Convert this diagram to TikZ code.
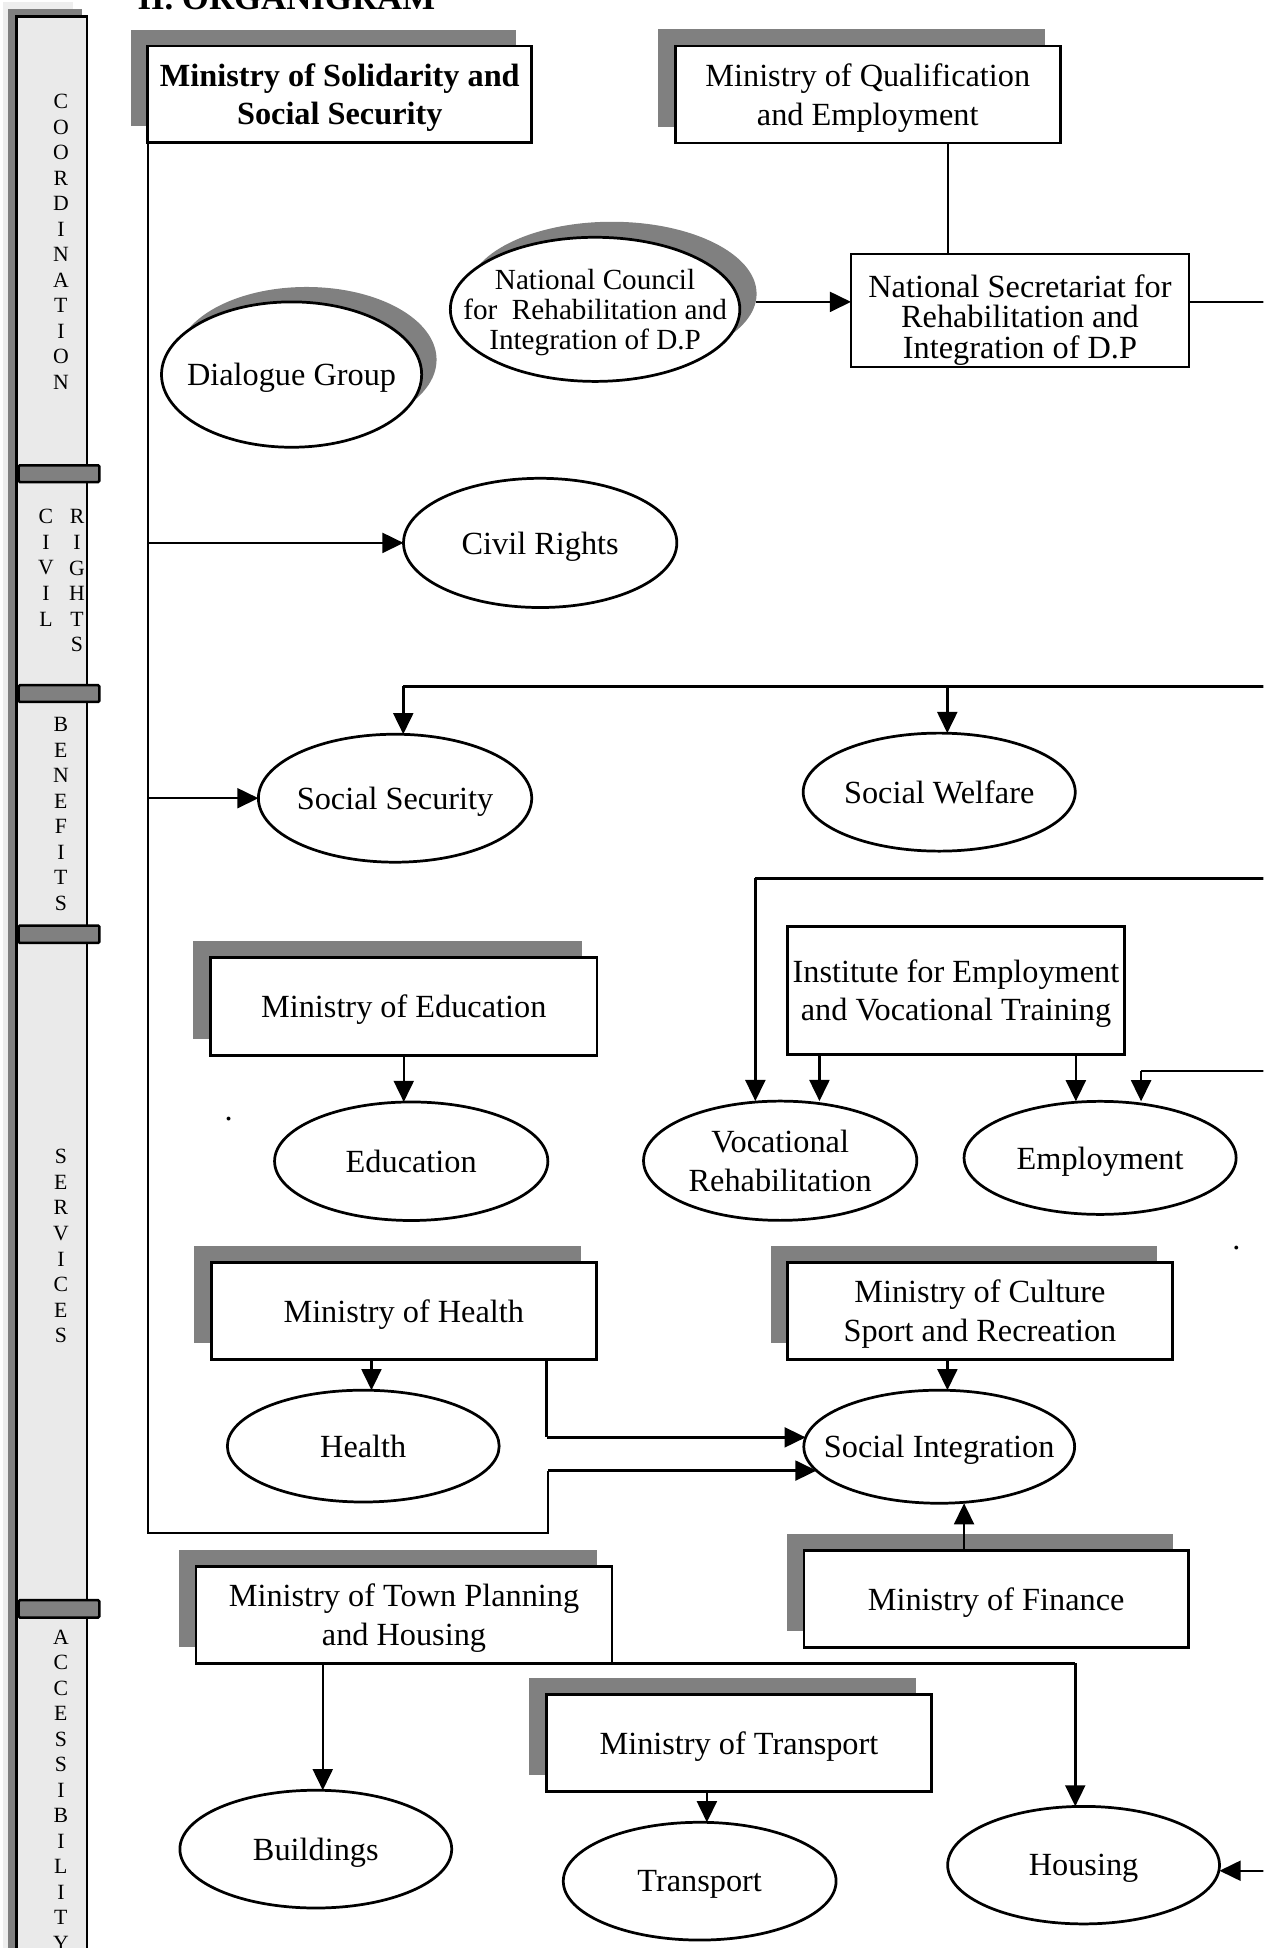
\documentclass[tikz,border=0pt]{standalone}
\usepackage{fontspec}
\setmainfont{Liberation Serif}
\usetikzlibrary{arrows.meta,shapes.geometric,shadows}

\definecolor{shadegray}{HTML}{808080}
\definecolor{panelfill}{HTML}{EAEAEA}
\definecolor{panelback}{HTML}{EEEEEE}

\tikzset{
  body/.style={font=\fontsize{26}{31}\selectfont},
  orgbox/.style={draw, line width=2.2pt, fill=white, rectangle, inner sep=0pt,
    outer sep=0pt, align=center, text depth=0pt, body},
  boxshadow/.style={drop shadow={shadow xshift=-13pt, shadow yshift=13pt,
    shadow scale=1.005, fill=shadegray, opacity=1}},
  oval/.style={draw, line width=2.2pt, fill=white, ellipse, inner sep=0pt, outer sep=0pt},
  ovalshadow/.style={drop shadow={shadow xshift=12pt, shadow yshift=12pt,
    fill=shadegray, opacity=1}},
  ovaltext/.style={body, align=center, inner sep=0pt, text depth=0pt},
  link/.style={line width=2pt},
  arr/.style={link, -{Triangle[length=17pt,width=16pt]}},
  letter/.style={font=\fontsize{17.5}{20.5}\selectfont, inner sep=0pt},
  sepbar/.style={draw, line width=2pt, fill=shadegray, rounded corners=1pt},
}

\begin{document}
\begin{tikzpicture}[x=1pt, y=-1pt]
\useasboundingbox (0,0) rectangle (1017,1568);
\clip (0,0) rectangle (1017,1568);

% ---------- side panel with the four areas ----------
\fill[panelback] (2.5,2) rectangle (59,1580);
\fill[shadegray] (6.5,7) rectangle (66,1580);
\draw[line width=2.2pt, fill=panelfill] (13,13) rectangle (70,1590);
\draw[sepbar] (15,374.5) rectangle (80,388);
\draw[sepbar] (15,551.5) rectangle (80,565);
\draw[sepbar] (15,745) rectangle (80,759);
\draw[sepbar] (15,1288) rectangle (80,1302);

\foreach \ch [count=\k] in {C,O,O,R,D,I,N,A,T,I,O,N}
  \node[letter] (coord\k) at (49, {61.5+20.5*\k}) {\ch};
\foreach \ch [count=\k] in {C,I,V,I,L}
  \node[letter] (civ\k) at (37, {395.4+20.6*\k}) {\ch};
\foreach \ch [count=\k] in {R,I,G,H,T,S}
  \node[letter] (rig\k) at (62, {395.4+20.6*\k}) {\ch};
\foreach \ch [count=\k] in {B,E,N,E,F,I,T,S}
  \node[letter] (ben\k) at (49, {562.4+20.6*\k}) {\ch};
\foreach \ch [count=\k] in {S,E,R,V,I,C,E,S}
  \node[letter] (ser\k) at (49, {910.4+20.6*\k}) {\ch};
\foreach \ch [count=\k] in {A,C,C,E,S,S,I,B,I,L,I,T,Y}
  \node[letter] (acc\k) at (49, {1297.5+20.5*\k}) {\ch};

% ---------- heading ----------
\node[anchor=base west, inner sep=0pt, font=\bfseries\fontsize{28}{32}\selectfont]
  (heading) at (110.5,8) {II. ORGANIGRAM};

% ---------- ministries and bodies ----------
\node[orgbox, boxshadow, minimum width=309pt, minimum height=77.5pt,
      font=\bfseries\fontsize{26}{31}\selectfont]
  (mss) at (273.5,75.8) {Ministry of Solidarity and\\Social Security};
\node[orgbox, boxshadow, minimum width=310pt, minimum height=78pt]
  (mqe) at (698.5,76) {Ministry of Qualification\\and Employment};
\node[orgbox, minimum width=272pt, minimum height=91pt, text height=76.8pt,
      font=\fontsize{26}{24.5}\selectfont]
  (nsec) at (821,250) {National Secretariat for\\Rehabilitation and\\Integration of D.P};
\node[orgbox, minimum width=271pt, minimum height=103pt]
  (iev) at (769.5,797) {Institute for Employment\\and Vocational Training};
\node[orgbox, boxshadow, minimum width=311pt, minimum height=79pt]
  (medu) at (325,810) {Ministry of Education};
\node[orgbox, boxshadow, minimum width=310pt, minimum height=78pt]
  (mhealth) at (325,1055) {Ministry of Health};
\node[orgbox, boxshadow, minimum width=309.5pt, minimum height=78pt]
  (mcult) at (788.8,1055) {Ministry of Culture\\Sport and Recreation};
\node[orgbox, boxshadow, minimum width=309.5pt, minimum height=78pt]
  (mfin) at (801.8,1287) {Ministry of Finance};
\node[orgbox, boxshadow, minimum width=335pt, minimum height=78pt]
  (mtown) at (325.2,1299.8) {Ministry of Town Planning\\and Housing};
\node[orgbox, boxshadow, minimum width=309.7pt, minimum height=78pt]
  (mtrans) at (594.8,1403) {Ministry of Transport};

% ---------- fields of action ----------
\node[oval, ovalshadow, minimum width=209.4pt, minimum height=117pt] (dg) at (234.7,301.5) {};
\node[ovaltext] (dgt) at (dg) {Dialogue Group};
\node[oval, drop shadow={shadow xshift=13.5pt, shadow yshift=12.5pt, fill=shadegray, opacity=1},
      minimum width=233pt, minimum height=116pt] (ncr) at (479,249) {};
\node[ovaltext, font=\fontsize{23.5}{24}\selectfont] (ncrt) at (ncr)
  {National Council\\for~ Rehabilitation and\\Integration of D.P};
\node[oval, minimum width=220pt, minimum height=104pt] (civil) at (434.8,437) {};
\node[ovaltext] (civilt) at (civil) {Civil Rights};
\node[oval, minimum width=220pt, minimum height=103pt] (socsec) at (318,642.5) {};
\node[ovaltext] (socsect) at (socsec) {Social Security};
\node[oval, minimum width=219pt, minimum height=95pt] (socwel) at (756,637.6) {};
\node[ovaltext] (socwelt) at (socwel) {Social Welfare};
\node[oval, minimum width=220pt, minimum height=96pt] (vocrehab) at (628,934.3) {};
\node[ovaltext] (vocrehabt) at (vocrehab) {Vocational\\Rehabilitation};
\node[oval, minimum width=219pt, minimum height=91pt] (employ) at (885.5,932) {};
\node[ovaltext] (employt) at (employ) {Employment};
\node[oval, minimum width=220pt, minimum height=95.4pt] (educ) at (331,934.7) {};
\node[ovaltext] (euct) at (educ) {Education};
\node[oval, minimum width=218.8pt, minimum height=90pt] (health) at (292.4,1164) {};
\node[ovaltext] (healtht) at (health) {Health};
\node[oval, minimum width=218pt, minimum height=91pt] (socint) at (756,1164.5) {};
\node[ovaltext] (socintt) at (socint) {Social Integration};
\node[oval, minimum width=218.8pt, minimum height=94.8pt] (build) at (254.2,1488.4) {};
\node[ovaltext] (buildt) at (build) {Buildings};
\node[oval, minimum width=219.6pt, minimum height=94.8pt] (transp) at (563.2,1514.2) {};
\node[ovaltext] (transpt) at (transp) {Transport};
\node[oval, minimum width=218.8pt, minimum height=94.6pt] (housing) at (872.2,1501.3) {};
\node[ovaltext] (housingt) at (housing) {Housing};

% stray full stops
\node[body, anchor=base, inner sep=0pt] (stopA) at (184,902) {.};
\node[body, anchor=base, inner sep=0pt] (stopB) at (995.3,1006) {.};

% ---------- routing points ----------
\coordinate (spineA) at (119,1234);
\coordinate (spineB) at (441,1234);
\coordinate (ncrout) at ([xshift=13pt,yshift=6pt]ncr.east);
\coordinate (edgeA) at (1020,243);
\coordinate (colQ) at (763,0);
\coordinate (benR) at (1020,552.4);
\coordinate (benL) at (324.6,552.4);
\coordinate (benW) at (762.5,552.4);
\coordinate (vocR) at (1020,707);
\coordinate (vocL) at (608,707);
\coordinate (colV) at (659.6,0);
\coordinate (colE) at (866,0);
\coordinate (empR) at (1020,862);
\coordinate (empT) at (918.5,862);
\coordinate (colH) at (299,0);
\coordinate (hA) at (440,0);
\coordinate (colS) at (762.6,0);
\coordinate (colF) at (776,0);
\coordinate (colT) at (259.8,0);
\coordinate (colHo) at (865.5,0);
\coordinate (colTr) at (569,0);
\coordinate (housR) at (1020,1505.8);

% ---------- connectors ----------
\draw[link] (mss.south west) -- (spineA) -- (spineB) -- (spineB |- socint.191);
\draw[arr] (spineB |- socint.191) -- (socint.191);
\draw[arr] (civil.west -| mss.west) -- (civil.west);
\draw[arr] (socsec.west -| mss.west) -- (socsec.west);

\draw[arr] (ncrout) -- (ncrout -| nsec.west);
\draw[link] (mqe.south -| colQ) -- (nsec.north -| colQ);
\draw[link] (nsec.east |- ncrout) -- (edgeA);

\draw[link] (benR) -- (benL);
\draw[arr] (benL) -- (benL |- socsec.north);
\draw[arr] (benW) -- (benW |- socwel.north);

\draw[link] (vocR) -- (vocL);
\draw[arr] (vocL) -- (vocL |- vocrehab.north);
\draw[arr] (iev.south -| colV) -- (colV |- vocrehab.north);
\draw[arr] (iev.south -| colE) -- (colE |- employ.north);
\draw[link] (empR) -- (empT);
\draw[arr] (empT) -- (empT |- employ.north);

\draw[arr] (medu.south) -- (medu.south |- educ.north);

\draw[arr] (mhealth.south -| colH) -- (colH |- health.north);
\draw[link] (mhealth.south -| hA) -- (hA |- socint.176.5);
\draw[arr] (hA |- socint.176.5) -- (socint.176.5);
\draw[arr] (mcult.south -| colS) -- (colS |- socint.north);
\draw[arr] (mfin.north -| colF) -- (colF |- socint.south);

\draw[arr] (mtown.south -| colT) -- (colT |- build.north);
\draw[link] (mtown.south east) -- (mtown.south -| colHo);
\draw[arr] (mtown.south -| colHo) -- (colHo |- housing.north);
\draw[arr] (mtrans.south -| colTr) -- (colTr |- transp.north);
\draw[arr] (housR) -- (housR -| housing.east);
\end{tikzpicture}
\end{document}
